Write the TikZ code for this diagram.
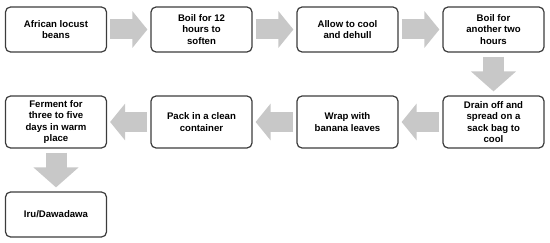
\documentclass[tikz,border=0pt]{standalone}
\usepackage{fontspec}
\setmainfont{Liberation Sans}
\usetikzlibrary{arrows.meta}
\definecolor{arrowgray}{RGB}{200,200,200}
\definecolor{boxline}{RGB}{60,60,60}
\begin{document}
\begin{tikzpicture}[x=1pt,y=-1pt,
  stepbox/.style={draw=boxline, line width=1.2pt, rounded corners=5pt,
    minimum width=101pt, align=center, inner sep=0pt,
    font=\fontsize{9.6}{11.4}\selectfont\bfseries},
  rowa/.style={stepbox, minimum height=45pt},
  rowb/.style={stepbox, minimum height=52pt},
  harrow/.style={draw=arrowgray, line width=20pt, shorten <=3pt, shorten >=3pt,
    -{Triangle[width=36pt,length=15pt]}},
  varrow/.style={draw=arrowgray, line width=21pt, shorten <=4pt, shorten >=4pt,
    -{Triangle[width=44pt,length=20pt]}}
]
\useasboundingbox (0,0) rectangle (550,243);
\node[rowa] (b1) at (56,29.5) {African locust\\beans};
\node[rowa] (b2) at (201.5,29.5) {Boil for 12\\hours to\\soften};
\node[rowa] (b3) at (347.5,29.5) {Allow to cool\\and dehull};
\node[rowa] (b4) at (493.5,29.5) {Boil for\\another two\\hours};
\node[rowb] (b5) at (493.5,122) {Drain off and\\spread on a\\sack bag to\\cool};
\node[rowb] (b6) at (347.5,122) {Wrap with\\banana leaves};
\node[rowb] (b7) at (201.5,122) {Pack in a clean\\container};
\node[rowb] (b8) at (56,122) {Ferment for\\three to five\\days in warm\\place};
\node[rowa] (b9) at (56,214.5) {Iru/Dawadawa};
\draw[harrow] (b1.east) -- (b2.west);
\draw[harrow] (b2.east) -- (b3.west);
\draw[harrow] (b3.east) -- (b4.west);
\draw[varrow] (b4.south) -- (b5.north);
\draw[harrow] (b5.west) -- (b6.east);
\draw[harrow] (b6.west) -- (b7.east);
\draw[harrow] (b7.west) -- (b8.east);
\draw[varrow] (b8.south) -- (b9.north);
\end{tikzpicture}
\end{document}
